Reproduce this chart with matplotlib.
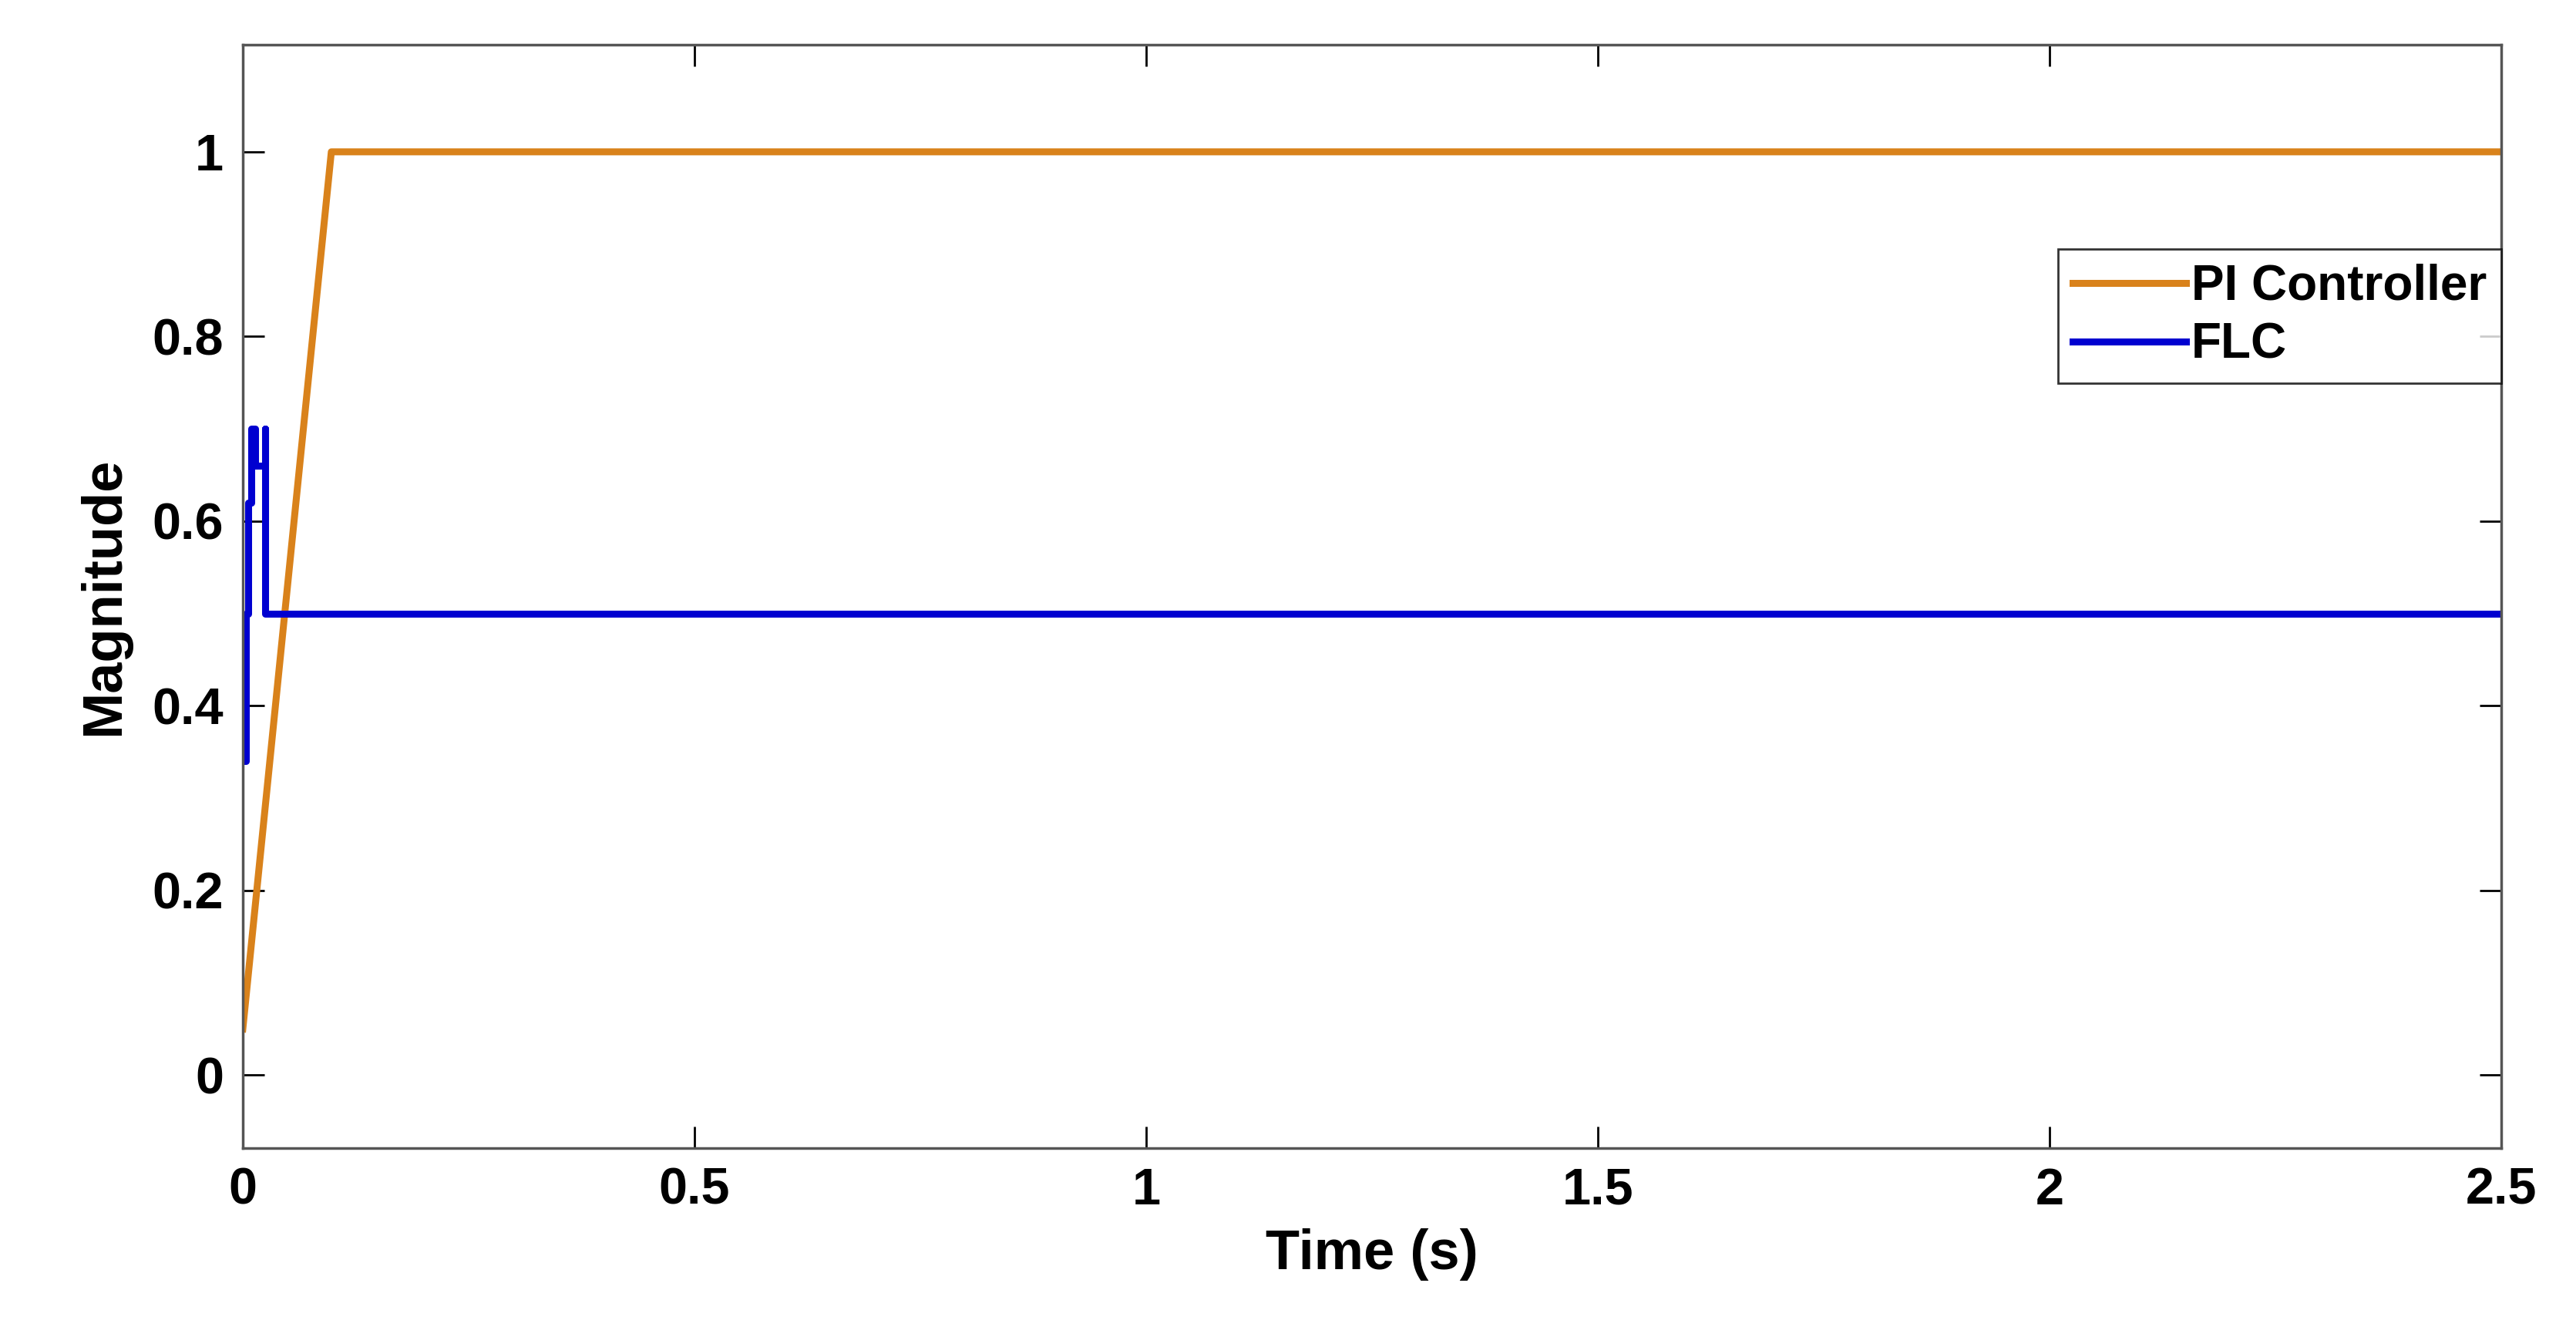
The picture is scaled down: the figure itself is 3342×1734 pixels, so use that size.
import matplotlib.pyplot as plt

# PI controller response
pi_t = [0.0, 0.098, 2.5]
pi_v = [0.05, 1.0, 1.0]

# FLC response (step-like start)
flc_t = [0.0, 0.003, 0.003, 0.006, 0.006, 0.009, 0.009, 0.014, 0.014, 0.025, 0.025, 2.5]
flc_v = [0.34, 0.34, 0.5, 0.5, 0.62, 0.62, 0.7, 0.7, 0.66, 0.7, 0.5, 0.5]

plt.rcParams['font.family'] = ['Liberation Sans', 'DejaVu Sans']
plt.rcParams['font.weight'] = 'bold'

fig = plt.figure(figsize=(33.42, 17.34), dpi=100)
ax = fig.add_axes([315/3342, 1-1489/1734, (3245-315)/3342, (1489-58)/1734])

ax.plot(pi_t, pi_v, color='#D9821B', lw=6.5, label='PI Controller')
ax.plot(flc_t, flc_v, color='#0000D0', lw=6.5, drawstyle='steps-post', label='FLC')

ax.set_xlim(0, 2.5)
ax.set_ylim(-0.079, 1.116)
ax.set_xticks([0, 0.5, 1, 1.5, 2, 2.5])
ax.set_xticklabels(['0', '0.5', '1', '1.5', '2', '2.5'])
ax.set_yticks([0, 0.2, 0.4, 0.6, 0.8, 1])
ax.set_yticklabels(['0', '0.2', '0.4', '0.6', '0.8', '1'])
ax.tick_params(labelsize=48, direction='in', length=20, width=2, top=True, right=True, pad=18)
for s in ax.spines.values():
    s.set_linewidth(2.5)
    s.set_color('#555555')

ax.set_xlabel('Time (s)', fontsize=52, fontweight='bold', labelpad=12)
ax.set_ylabel('Magnitude', fontsize=52, fontweight='bold', labelpad=20)

leg = ax.legend(loc='upper right', bbox_to_anchor=(1.0, 0.815), fontsize=46, frameon=True,
                fancybox=False, edgecolor='black', handlelength=2.3, borderpad=0.3,
                labelspacing=0.25, handletextpad=0.1, borderaxespad=0)
leg.get_frame().set_linewidth(2)

fig.savefig('out.png', dpi=100)
